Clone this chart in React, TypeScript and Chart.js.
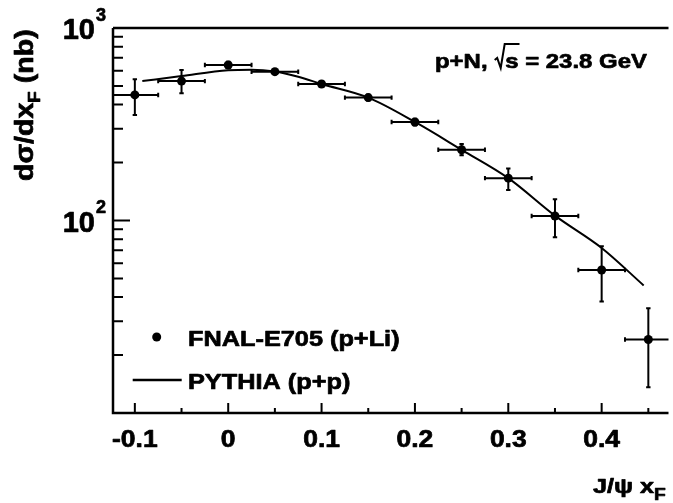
import React, { useEffect, useRef } from "react";
import { Chart, registerables } from "chart.js";

Chart.register(...registerables);

// Measured data (FNAL-E705, p+Li)
const xData = [-0.1, -0.05, 0, 0.05, 0.1, 0.15, 0.2, 0.25, 0.3, 0.35, 0.4, 0.45];
const yData = [449, 530, 642, 593, 512, 435, 325, 233, 166, 105.5, 55.3, 24.1];
const yLow = [353, 458, 620, 575, 497, 420, 312, 218, 144, 81.8, 37.9, 13.6];
const yHigh = [541, 605, 668, 612, 528, 450, 338, 250, 186, 129, 73.6, 35];
const xHalfWidth = [0.025, 0.025, 0.025, 0.025, 0.025, 0.025, 0.025, 0.025, 0.025, 0.025, 0.025, 0.025];

// PYTHIA (p+p) curve
const curveX = [-0.092, -0.05, 0, 0.025, 0.05, 0.075, 0.1, 0.15, 0.2, 0.25, 0.3, 0.35, 0.4, 0.445];
const curveY = [530, 563, 603, 607, 594, 558, 512, 435, 325, 233, 166, 106, 72, 46];

// Axes
const xMin = -0.1234;
const xMax = 0.4716;
const yMin = 10;
const yMax = 1000;
const xMajorTicks = [-0.1, 0, 0.1, 0.2, 0.3, 0.4];
const xMajorLabels = ["-0.1", "0", "0.1", "0.2", "0.3", "0.4"];
const xMinorTicks = [-0.05, 0.05, 0.15, 0.25, 0.35, 0.45];
const yMajorTicks = [100, 1000];
const yMajorExponents = ["2", "3"];
const yMinorTicks = [20, 30, 40, 50, 60, 70, 80, 90, 200, 300, 400, 500, 600, 700, 800, 900];

const legendPoints = "FNAL-E705 (p+Li)";
const legendCurve = "PYTHIA (p+p)";
const yTitleMain = "dσ/dx";
const yTitleSub = "F";
const yTitleTail = " (nb)";
const xTitleMain = "J/ψ x";
const xTitleSub = "F";
const annotPrefix = "p+N, ";
const annotRoot = "s";
const annotSuffix = " = 23.8 GeV";

const FONT = '"Liberation Sans", Arial, Helvetica, sans-serif';

type Piece = { t: string; size: number; dy: number };

function drawPieces(
  ctx: CanvasRenderingContext2D,
  pieces: Piece[],
  x: number,
  y: number,
  sx: number,
  align: "left" | "center" | "right"
) {
  ctx.save();
  ctx.textBaseline = "alphabetic";
  ctx.textAlign = "left";
  const widths = pieces.map((p) => {
    ctx.font = `bold ${p.size}px ${FONT}`;
    return ctx.measureText(p.t).width * sx;
  });
  const total = widths.reduce((a, b) => a + b, 0);
  let cx = align === "left" ? x : align === "right" ? x - total : x - total / 2;
  pieces.forEach((p, i) => {
    ctx.save();
    ctx.font = `bold ${p.size}px ${FONT}`;
    ctx.translate(cx, y + p.dy);
    ctx.scale(sx, 1);
    ctx.fillStyle = "#000";
    ctx.strokeStyle = "#000";
    ctx.lineWidth = 0.7;
    ctx.lineJoin = "round";
    ctx.fillText(p.t, 0, 0);
    ctx.strokeText(p.t, 0, 0);
    ctx.restore();
    cx += widths[i];
  });
  ctx.restore();
  return total;
}

const physicsPlugin = {
  id: "physicsDecor",
  beforeDatasetsDraw(chart: any) {
    const { ctx, chartArea, scales } = chart;
    const xs = scales.x;
    const ys = scales.y;
    ctx.save();
    ctx.beginPath();
    ctx.rect(chartArea.left, chartArea.top, chartArea.right - chartArea.left, chartArea.bottom - chartArea.top);
    ctx.clip();
    ctx.strokeStyle = "#000";
    ctx.lineWidth = 2;
    const cap = 2.2;
    xData.forEach((xv, i) => {
      const px = xs.getPixelForValue(xv);
      const py = ys.getPixelForValue(yData[i]);
      const x0 = xs.getPixelForValue(xv - xHalfWidth[i]);
      const x1 = xs.getPixelForValue(xv + xHalfWidth[i]);
      const yl = ys.getPixelForValue(yLow[i]);
      const yh = ys.getPixelForValue(yHigh[i]);
      ctx.beginPath();
      ctx.moveTo(x0, py);
      ctx.lineTo(x1, py);
      ctx.moveTo(x0, py - cap);
      ctx.lineTo(x0, py + cap);
      ctx.moveTo(x1, py - cap);
      ctx.lineTo(x1, py + cap);
      ctx.moveTo(px, yl);
      ctx.lineTo(px, yh);
      ctx.moveTo(px - cap, yl);
      ctx.lineTo(px + cap, yl);
      ctx.moveTo(px - cap, yh);
      ctx.lineTo(px + cap, yh);
      ctx.stroke();
    });
    ctx.restore();
  },
  afterDraw(chart: any) {
    const { ctx, chartArea, scales } = chart;
    const xs = scales.x;
    const ys = scales.y;
    const { left, right, top, bottom } = chartArea;
    ctx.save();
    ctx.strokeStyle = "#000";
    ctx.fillStyle = "#000";
    ctx.lineCap = "butt";

    // frame lines
    ctx.lineWidth = 2.5;
    ctx.beginPath();
    ctx.moveTo(left, top);
    ctx.lineTo(left, bottom);
    ctx.lineTo(right, bottom);
    ctx.moveTo(left, top);
    ctx.lineTo(right, top);
    ctx.stroke();

    // inward ticks
    ctx.lineWidth = 2;
    ctx.beginPath();
    yMinorTicks.forEach((v) => {
      const py = ys.getPixelForValue(v);
      ctx.moveTo(left, py);
      ctx.lineTo(left + 10, py);
    });
    yMajorTicks.forEach((v) => {
      const py = ys.getPixelForValue(v);
      ctx.moveTo(left, py);
      ctx.lineTo(left + 17, py);
    });
    xMajorTicks.forEach((v) => {
      const px = xs.getPixelForValue(v);
      ctx.moveTo(px, bottom);
      ctx.lineTo(px, bottom - 10);
    });
    xMinorTicks.forEach((v) => {
      const px = xs.getPixelForValue(v);
      ctx.moveTo(px, bottom);
      ctx.lineTo(px, bottom - 5);
    });
    ctx.stroke();

    // x tick labels
    xMajorTicks.forEach((v, i) => {
      const px = xs.getPixelForValue(v);
      drawPieces(ctx, [{ t: xMajorLabels[i], size: 23, dy: 0 }], px, bottom + 34, 1.15, "center");
    });

    // y tick labels (10^n)
    yMajorTicks.forEach((v, i) => {
      const py = ys.getPixelForValue(v);
      const baseX = 95;
      drawPieces(ctx, [{ t: "10", size: 29, dy: 0 }], baseX, py + 11, 1.0, "right");
      drawPieces(ctx, [{ t: yMajorExponents[i], size: 18, dy: 0 }], baseX + 1, py - 7.5, 1.0, "left");
    });

    // y axis title (rotated)
    ctx.save();
    ctx.translate(33, 181);
    ctx.rotate(-Math.PI / 2);
    drawPieces(
      ctx,
      [
        { t: yTitleMain, size: 26, dy: 0 },
        { t: yTitleSub, size: 17, dy: 7 },
        { t: yTitleTail, size: 26, dy: 0 },
      ],
      0,
      0,
      1.1,
      "left"
    );
    ctx.restore();

    // x axis title
    drawPieces(
      ctx,
      [
        { t: xTitleMain, size: 21, dy: 0 },
        { t: xTitleSub, size: 16, dy: 7 },
      ],
      593,
      493,
      1.2,
      "left"
    );

    // annotation p+N, sqrt(s) = 23.8 GeV
    {
      const sx = 1.14;
      const size = 21;
      const baseY = 68;
      let cx = 435;
      cx += drawPieces(ctx, [{ t: annotPrefix, size, dy: 0 }], cx, baseY, sx, "left");
      // radical sign drawn as a path
      const rootTop = 44;
      ctx.lineWidth = 2;
      ctx.lineJoin = "miter";
      ctx.beginPath();
      ctx.moveTo(cx + 0.5, baseY - 8);
      ctx.lineTo(cx + 3, baseY - 10);
      ctx.lineTo(cx + 6.5, baseY);
      ctx.lineTo(cx + 10.5, rootTop);
      const sStart = cx + 11;
      ctx.font = `bold ${size}px ${FONT}`;
      const sW = ctx.measureText(annotRoot).width * sx;
      ctx.lineTo(sStart + sW + 1, rootTop);
      ctx.stroke();
      drawPieces(ctx, [{ t: annotRoot, size, dy: 0 }], sStart, baseY, sx, "left");
      cx = sStart + sW;
      drawPieces(ctx, [{ t: annotSuffix, size, dy: 0 }], cx, baseY, sx, "left");
    }

    // legend
    ctx.beginPath();
    ctx.arc(156.7, 337, 4.5, 0, Math.PI * 2);
    ctx.fill();
    drawPieces(ctx, [{ t: legendPoints, size: 22, dy: 0 }], 188, 345.5, 1.15, "left");
    ctx.lineWidth = 2.5;
    ctx.beginPath();
    ctx.moveTo(132.7, 380);
    ctx.lineTo(181.7, 380);
    ctx.stroke();
    drawPieces(ctx, [{ t: legendCurve, size: 22, dy: 0 }], 188, 389, 1.15, "left");

    ctx.restore();
  },
};

export default function App() {
  const canvasRef = useRef<HTMLCanvasElement | null>(null);

  useEffect(() => {
    document.body.style.margin = "0";
    document.body.style.background = "#fff";
    const canvas = canvasRef.current;
    if (!canvas) return;
    const chart = new Chart(canvas, {
      type: "scatter",
      data: {
        datasets: [
          {
            label: legendPoints,
            data: xData.map((x, i) => ({ x, y: yData[i] })),
            pointRadius: 4.5,
            pointHoverRadius: 4.5,
            backgroundColor: "#000",
            borderColor: "#000",
            borderWidth: 0,
            showLine: false,
          },
          {
            label: legendCurve,
            type: "line",
            data: curveX.map((x, i) => ({ x, y: curveY[i] })),
            borderColor: "#000",
            borderWidth: 2,
            pointRadius: 0,
            fill: false,
            showLine: true,
            cubicInterpolationMode: "monotone",
          },
        ],
      } as any,
      options: {
        responsive: false,
        animation: false,
        devicePixelRatio: 1,
        layout: { padding: { left: 113, top: 28, right: 0, bottom: 90 } },
        scales: {
          x: { type: "linear", min: xMin, max: xMax, display: false },
          y: { type: "logarithmic", min: yMin, max: yMax, display: false },
        },
        plugins: {
          legend: { display: false },
          tooltip: { enabled: false },
        },
      } as any,
      plugins: [physicsPlugin],
    });
    return () => chart.destroy();
  }, []);

  return (
    <div style={{ width: 673, height: 503, background: "#fff" }}>
      <canvas ref={canvasRef} width={673} height={503} style={{ display: "block" }} />
    </div>
  );
}
